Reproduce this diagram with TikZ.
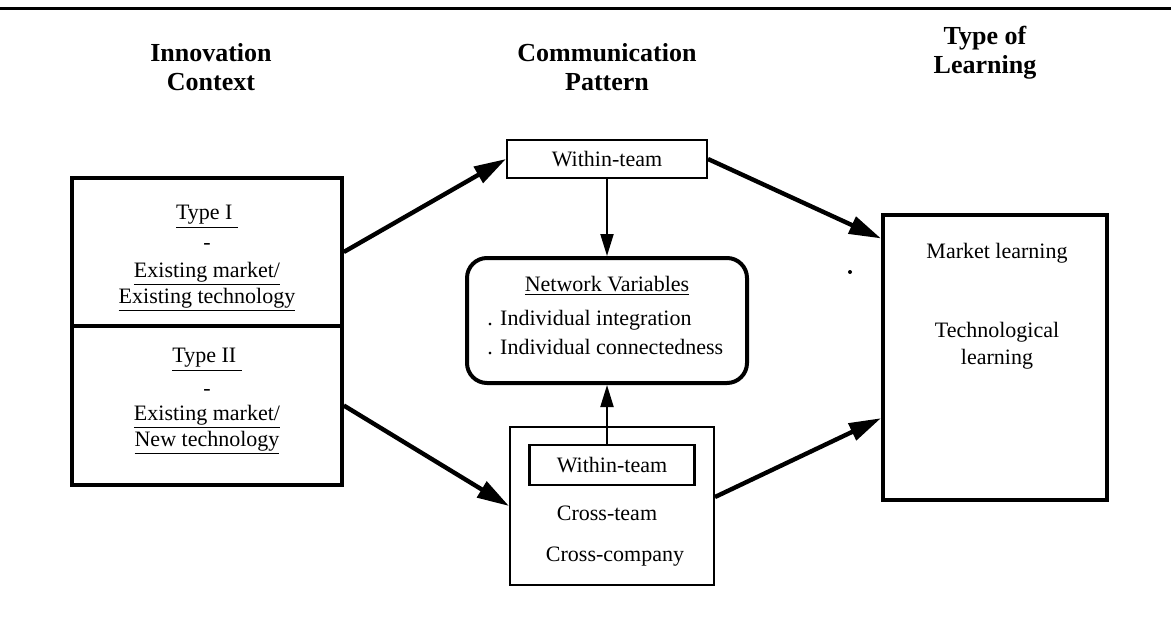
\documentclass[tikz,border=0pt]{standalone}
\usepackage{fontspec}
\setmainfont{Liberation Serif}
\usetikzlibrary{arrows.meta,calc}
\begin{document}
\begin{tikzpicture}[x=0.5pt,y=-0.5pt,
  body/.style={font=\fontsize{11}{13.3}\selectfont, inner sep=0pt, align=center},
  head/.style={font=\fontsize{13}{14.5}\selectfont\bfseries, inner sep=0pt, align=center},
  thickbox/.style={draw, line width=1.8pt, inner sep=0pt},
  thinbox/.style={draw, line width=1pt, inner sep=0pt},
  bigarrow/.style={line width=2.2pt, -{Triangle[length=16pt,width=9pt]}},
  smallarrow/.style={line width=1pt, -{Triangle[length=11pt,width=6.5pt]}}]
\useasboundingbox (0,0) rectangle (1171,620);
% top rule
\coordinate (rl) at (0,9);
\coordinate (rr) at (1171,9);
\draw[line width=1.5pt] (rl) -- (rr);
% headers
\node[head] (h1) at (211,67) {Innovation\\Context};
\node[head] (h2) at (607,67) {Communication\\Pattern};
\node[head] (h3) at (985,53) {Type of\\Learning};
% left boxes
\node[thickbox, minimum width=135pt, minimum height=74pt] (b1) at (207,252) {};
\node[thickbox, minimum width=135pt, minimum height=79.5pt] (b2) at (207,405.5) {};
\node[body] (t1a) at (207,217) {\underline{Type I }};
\node[body] (t1b) at (207,246) {-};
\node[body] (t1c) at (207,274) {\underline{Existing market/}};
\node[body] (t1d) at (207,300) {\underline{Existing technology}};
\node[body] (t2a) at (207,360) {\underline{Type II }};
\node[body] (t2b) at (207,392) {-};
\node[body] (t2c) at (207,417) {\underline{Existing market/}};
\node[body] (t2d) at (207,443) {\underline{New technology}};
% centre column
\node[thinbox, minimum width=100pt, minimum height=19pt] (w1) at (607,159) {};
\node[body] (w1t) at (607,159) {Within-team};
\node[draw, line width=2pt, rounded corners=10pt, minimum width=140pt, minimum height=62.5pt] (nv) at (607,320.5) {};
\node[body] (nvt) at (607,286) {\underline{Network Variables}};
\node[body, anchor=west] (nv1) at (487,320) {. Individual integration};
\node[body, anchor=west] (nv2) at (487,347) {. Individual connectedness};
\node[thinbox, minimum width=102pt, minimum height=79pt] (cb) at (612,506) {};
\node[draw, line width=1.3pt, inner sep=0pt, minimum width=82.5pt, minimum height=20pt] (w2) at (612,465) {};
\node[body] (w2t) at (612,465) {Within-team};
\node[body] (ct) at (607,513) {Cross-team};
\node[body] (cc) at (615,557) {Cross-company};
% right box
\node[draw, line width=2pt, inner sep=0pt, minimum width=112pt, minimum height=142.5pt] (rb) at (995,357.5) {};
\node[body] (m1) at (997,253) {Market learning};
\node[body] (m2) at (997,346) {Technological\\learning};
% stray dot
\fill (850,272) circle (1pt);
% arrows
\draw[bigarrow] (b1.east) -- (w1.west);
\draw[bigarrow] (b2.east) -- (cb.west);
\draw[bigarrow] (w1.east) -- ($(rb.north west)!0.088!(rb.south west)$);
\draw[bigarrow] ($(cb.east)+(0,-9)$) -- ($(rb.north west)!0.71!(rb.south west)$);
\draw[smallarrow] (w1.south -| nv.north) -- (nv.north);
\draw[smallarrow] (w2.north -| nv.south) -- (nv.south);
\end{tikzpicture}
\end{document}
